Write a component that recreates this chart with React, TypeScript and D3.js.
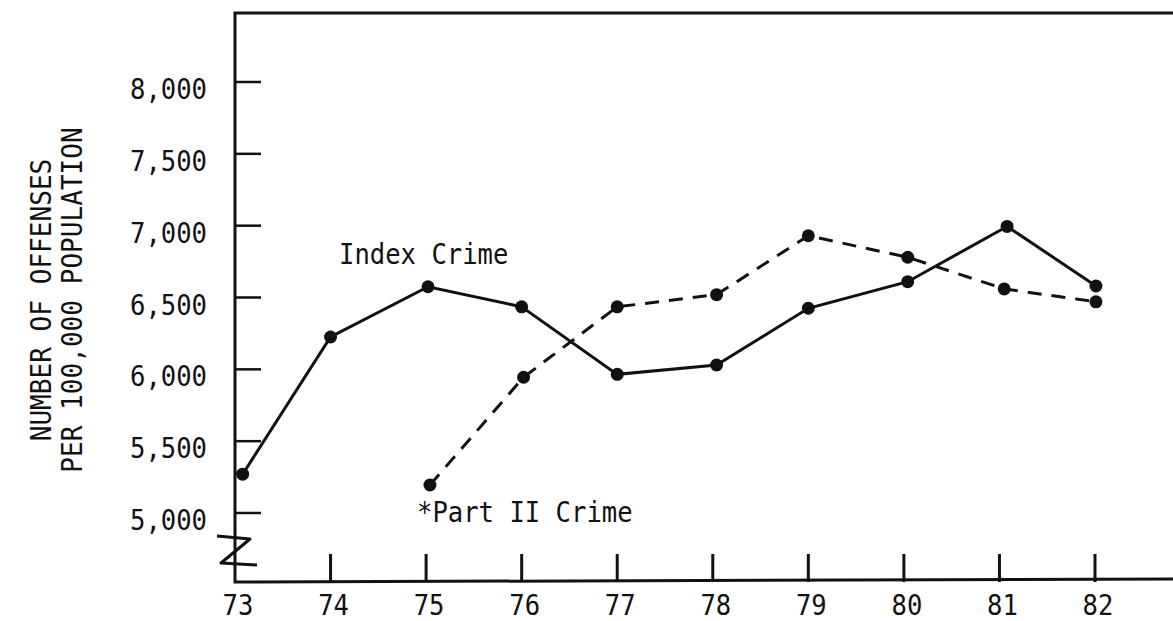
import React, { useRef, useEffect } from 'react';
import * as d3 from 'd3';

// years (x position, a few dots sit slightly off the tick)
const indexYears = [73.08, 74, 75.02, 76, 77, 78.04, 79, 80.04, 81.08, 82.01];
const indexValues = [5270, 6225, 6575, 6435, 5965, 6030, 6425, 6610, 6995, 6580];

const partYears = [75.04, 76.02, 77, 78.04, 79, 80.04, 81.05, 82.01];
const partValues = [5195, 5945, 6435, 6520, 6930, 6780, 6560, 6470];

const xTicks = [73, 74, 75, 76, 77, 78, 79, 80, 81, 82];
const yTicks = [5000, 5500, 6000, 6500, 7000, 7500, 8000];

const W = 1173;
const H = 621;
const FONT = "'DejaVu Sans Mono', 'Liberation Mono', monospace";
const CHAR = 15.4;

function App() {
  const ref = useRef<SVGSVGElement>(null);

  useEffect(() => {
    const svg = d3.select(ref.current);
    svg.selectAll('*').remove();

    const x = d3.scaleLinear().domain([73, 82]).range([235, 1095]);
    const y = d3.scaleLinear().domain([5000, 8000]).range([513, 82]);
    const left = 235;
    const top = 13;
    const bottom = 582;

    const txt = (s: string, px: number, py: number, anchor: string) =>
      svg.append('text')
        .attr('x', px).attr('y', py)
        .attr('text-anchor', anchor)
        .attr('font-family', FONT)
        .attr('font-size', 28)
        .attr('fill', '#111')
        .attr('textLength', s.length * CHAR)
        .attr('lengthAdjust', 'spacingAndGlyphs')
        .text(s);

    // frame
    svg.append('path')
      .attr('d', `M${W},${top} L${left},${top} L${left},${bottom} L${W},${bottom - 3}`)
      .attr('fill', 'none').attr('stroke', '#111').attr('stroke-width', 3);

    // y ticks
    yTicks.forEach((t) => {
      svg.append('line')
        .attr('x1', left).attr('x2', left + 26)
        .attr('y1', y(t)).attr('y2', y(t))
        .attr('stroke', '#111').attr('stroke-width', 2.5);
      txt(d3.format(',')(t), 207, y(t) + 17, 'end');
    });

    // x ticks
    xTicks.forEach((t) => {
      if (t !== 73) {
        svg.append('line')
          .attr('x1', x(t)).attr('x2', x(t))
          .attr('y1', bottom).attr('y2', bottom - 28)
          .attr('stroke', '#111').attr('stroke-width', 3);
      }
      txt(String(t), x(t) + 3, 615, 'middle');
    });

    // axis break mark
    svg.append('path')
      .attr('d', 'M217,536 L250,539 L221,563 L257,565')
      .attr('fill', 'none').attr('stroke', '#111').attr('stroke-width', 3)
      .attr('stroke-linejoin', 'round');

    const line = d3.line<[number, number]>()
      .x((d) => x(d[0]))
      .y((d) => y(d[1]));

    const idx: [number, number][] = indexYears.map((yr, i) => [yr, indexValues[i]]);
    const part: [number, number][] = partYears.map((yr, i) => [yr, partValues[i]]);

    svg.append('path')
      .attr('d', line(part))
      .attr('fill', 'none').attr('stroke', '#111').attr('stroke-width', 3)
      .attr('stroke-dasharray', '14 10');

    svg.append('path')
      .attr('d', line(idx))
      .attr('fill', 'none').attr('stroke', '#111').attr('stroke-width', 3);

    svg.selectAll('.dot')
      .data(idx.concat(part))
      .enter()
      .append('circle')
      .attr('cx', (d) => x(d[0]))
      .attr('cy', (d) => y(d[1]))
      .attr('r', 6.5)
      .attr('fill', '#111');

    txt('Index Crime', 339, 264, 'start');
    txt('*Part II Crime', 417, 522, 'start');

    // y axis title
    const title = svg.append('g').attr('transform', 'translate(0,300) rotate(-90)');
    [['NUMBER OF OFFENSES', 51], ['PER 100,000 POPULATION', 82]].forEach(([s, bx]) => {
      const str = s as string;
      title.append('text')
        .attr('x', 0).attr('y', bx as number)
        .attr('text-anchor', 'middle')
        .attr('font-family', FONT)
        .attr('font-size', 28)
        .attr('fill', '#111')
        .attr('textLength', str.length * 15.7)
        .attr('lengthAdjust', 'spacingAndGlyphs')
        .text(str);
    });
  }, []);

  return (
    <svg
      ref={ref}
      width={W}
      height={H}
      style={{ position: 'absolute', left: 0, top: 0, background: '#fff' }}
    />
  );
}

export default App;
